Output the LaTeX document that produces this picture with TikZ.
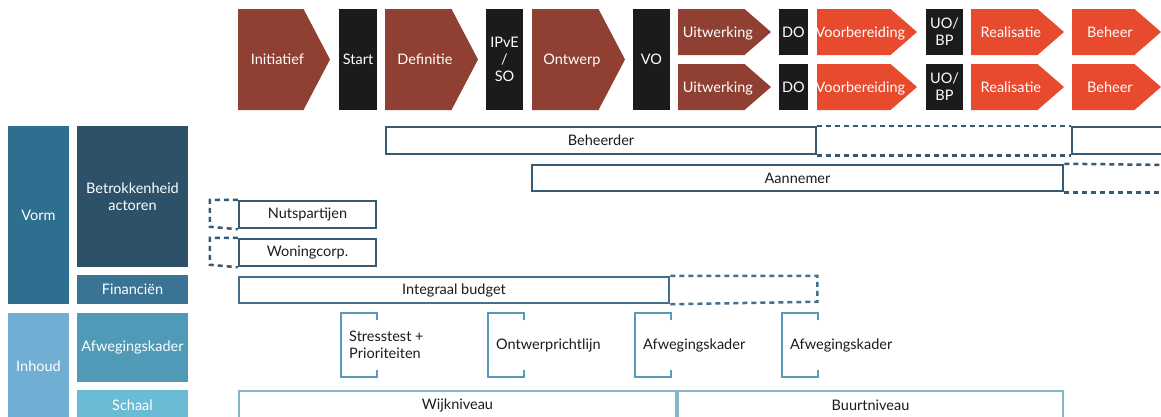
\documentclass[tikz,border=0pt]{standalone}
\usepackage{fontspec}
\setmainfont{Lato}
\definecolor{phasebrown}{RGB}{143,64,51}
\definecolor{phaseorange}{RGB}{232,74,46}
\definecolor{gatedark}{RGB}{27,27,27}
\definecolor{vormblue}{RGB}{46,110,142}
\definecolor{actorblue}{RGB}{44,81,105}
\definecolor{finblue}{RGB}{58,116,148}
\definecolor{inhoudblue}{RGB}{112,174,212}
\definecolor{kaderblue}{RGB}{79,154,183}
\definecolor{schaalblue}{RGB}{106,188,212}
\definecolor{actorline}{RGB}{55,90,114}
\definecolor{budgetline}{RGB}{66,112,142}
\definecolor{bracketline}{RGB}{88,155,185}
\definecolor{scaleline}{RGB}{130,182,200}
\definecolor{inktext}{RGB}{28,28,28}

% chevron phase: name, left x, tip x, top y, bottom y, colour, label
\newcommand\phasechev[7]{%
  \fill[#6] (#2,#4) -- ({#3-26.5},#4) -- (#3,{(#4+#5)/2}) -- ({#3-26.5},#5) -- (#2,#5) -- cycle;
  \node[onelabel, text=white] (#1) at ({(#2+#3)/2-6.6},{(#4+#5)/2}) {#7};
}
% open bracket with hooks and a left aligned label: name, x, label
\newcommand\kaderbracket[3]{%
  \draw[bracketline, line width=2.5pt] (#2+36,320) -- (#2+36,313) -- (#2,313) -- (#2,377) -- (#2+36,377) -- (#2+36,370);
  \node[lbl, text=inktext, anchor=west, align=left] (#1) at (#2+8,345) {#3};
}

\begin{document}
\begin{tikzpicture}[x=1pt, y=-1pt,
  lbl/.style={font=\fontsize{14.5}{17}\selectfont, inner sep=0pt, align=center},
  onelabel/.style={lbl, text height=10.4pt, text depth=0pt},
  gate/.style={lbl, fill=gatedark, text=white, minimum width=37pt},
  catbox/.style={lbl, text=white, minimum width=111pt},
  actor/.style={draw=actorline, line width=2.5pt, lbl, text=inktext},
  actordash/.style={draw=actorline, line width=2.5pt, dash pattern=on 5pt off 4pt},
  budgetdash/.style={draw=budgetline, line width=2.5pt, dash pattern=on 5pt off 4pt},
  scalebox/.style={draw=scaleline, line width=2.5pt, lbl, text=inktext, minimum height=28pt},
]
\clip (0,0) rectangle (1161,416);
\fill[white] (0,0) rectangle (1161,416);

% ---- phases ----
\phasechev{initiatief}{238}{330}{9}{110}{phasebrown}{Initiatief}
\node[gate, minimum width=38pt, minimum height=101pt] (start) at (358,59.5) {Start};
\phasechev{definitie}{385}{478}{9}{110}{phasebrown}{Definitie}
\node[gate, minimum height=101pt] (ipve) at (504.5,59.5) {IPvE\\/\\SO};
\phasechev{ontwerp}{532}{625}{9}{110}{phasebrown}{Ontwerp}
\node[gate, minimum height=101pt] (vo) at (651.5,59.5) {VO};

\phasechev{uitwerkingA}{678}{771}{9}{55}{phasebrown}{Uitwerking}
\node[gate, minimum width=29pt, minimum height=46pt] (doA) at (793.5,32) {DO};
\phasechev{voorbereidingA}{817}{917}{9}{55}{phaseorange}{Voorbereiding}
\node[gate, minimum height=46pt] (uoA) at (944.5,32) {UO/\\BP};
\phasechev{realisatieA}{971}{1064}{9}{55}{phaseorange}{Realisatie}
\phasechev{beheerA}{1072}{1161}{9}{55}{phaseorange}{Beheer}

\phasechev{uitwerkingB}{678}{771}{64}{110}{phasebrown}{Uitwerking}
\node[gate, minimum width=29pt, minimum height=46pt] (doB) at (793.5,87) {DO};
\phasechev{voorbereidingB}{817}{917}{64}{110}{phaseorange}{Voorbereiding}
\node[gate, minimum height=46pt] (uoB) at (944.5,87) {UO/\\BP};
\phasechev{realisatieB}{971}{1064}{64}{110}{phaseorange}{Realisatie}
\phasechev{beheerB}{1072}{1161}{64}{110}{phaseorange}{Beheer}

% ---- categories ----
\node[catbox, fill=vormblue, minimum width=61pt, minimum height=178pt] (vorm) at (38.5,215) {Vorm};
\node[catbox, fill=actorblue, minimum height=141pt] (betrokken) at (132.5,196.5) {Betrokkenheid\\actoren};
\node[catbox, fill=finblue, minimum height=29pt] (financien) at (132.5,289.5) {Financiën};
\node[catbox, fill=inhoudblue, minimum width=61pt, minimum height=107pt] (inhoud) at (38.5,366.5) {Inhoud};
\node[catbox, fill=kaderblue, minimum height=69pt] (kader) at (132.5,347.5) {Afwegingskader};
\node[catbox, fill=schaalblue, minimum height=30pt] (schaal) at (132.5,405) {Schaal};

% ---- actors ----
\node[actor, minimum width=430pt, minimum height=27pt] (beheerder) at (601,140.5) {Beheerder};
\node[actor, minimum width=120pt, minimum height=27pt] (beheerderB) at (1132,140.5) {};
\draw[actordash] (beheerder.north east) -- (beheerderB.north west);
\draw[actordash] (beheerder.south east) -- (beheerderB.south west);

\node[actor, minimum width=531pt, minimum height=26pt] (aannemer) at (797.5,178) {Aannemer};
\coordinate (aanEnd) at (1170,165);
\draw[actordash] (aannemer.north east) -- (aanEnd);
\draw[actordash] (aannemer.south east) -- (aanEnd |- aannemer.south);

\node[actor, minimum width=137pt, minimum height=27pt] (nuts) at (307.5,214.5) {Nutspartijen};
\draw[actordash] (nuts.north west) -- ++(-28,0) -- ++(0,27) -- (nuts.south west);
\node[actor, minimum width=137pt, minimum height=27pt] (woning) at (307.5,252.5) {Woningcorp.};
\draw[actordash] (woning.north west) -- ++(-28,0) -- ++(0,27) -- (woning.south west);

% ---- budget ----
\node[actor, draw=budgetline, minimum width=430pt, minimum height=26pt] (budget) at (454,290) {Integraal budget};
\draw[budgetdash] (budget.north east) -- ++(147,0) -- ++(0,26) -- (budget.south east);

% ---- frameworks ----
\kaderbracket{stresstest}{341}{Stresstest +\\Prioriteiten}
\kaderbracket{richtlijn}{488}{Ontwerprichtlijn}
\kaderbracket{kaderA}{635}{Afwegingskader}
\kaderbracket{kaderB}{782}{Afwegingskader}

% ---- scale ----
\node[scalebox, minimum width=437pt] (wijk) at (457.5,405) {Wijkniveau};
\node[scalebox, minimum width=385pt] (buurt) at (870.5,405) {Buurtniveau};
\end{tikzpicture}
\end{document}
